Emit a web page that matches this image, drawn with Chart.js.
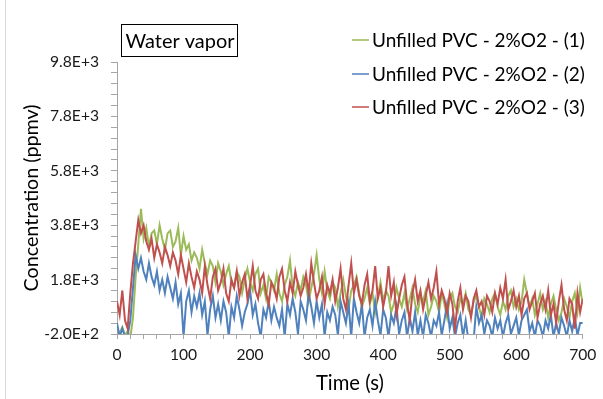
<!DOCTYPE html>
<html>
<head>
<meta charset="utf-8">
<script src="https://cdn.jsdelivr.net/npm/chart.js@4/dist/chart.umd.min.js"></script>
<style>
  html, body { margin: 0; padding: 0; background: #fff; }
  canvas { display: block; }
</style>
</head>
<body>
<canvas id="c" width="603" height="399"></canvas>
<script>
const TITLE = 'Water vapor';
const SERIES_NAMES = ['Unfilled PVC - 2%O2 - (1)', 'Unfilled PVC - 2%O2 - (2)', 'Unfilled PVC - 2%O2 - (3)'];
const X_TITLE = 'Time (s)';
const Y_TITLE = 'Concentration (ppmv)';
const Y_MAJOR = [-200, 1800, 3800, 5800, 7800, 9800];
const Y_TICK_LABELS = ['-2.0E+2', '1.8E+3', '3.8E+3', '5.8E+3', '7.8E+3', '9.8E+3'];
const X_MAJOR = [0, 100, 200, 300, 400, 500, 600, 700];
const X_TICK_LABELS = ['0', '100', '200', '300', '400', '500', '600', '700'];

const TIME = [
  0,4,8,12,16,20,24,28,32,36,
  40,44,48,52,56,60,64,68,72,76,
  80,84,88,92,96,100,104,108,112,116,
  120,124,128,132,136,140,144,148,152,156,
  160,164,168,172,176,180,184,188,192,196,
  200,204,208,212,216,220,224,228,232,236,
  240,244,248,252,256,260,264,268,272,276,
  280,284,288,292,296,300,304,308,312,316,
  320,324,328,332,336,340,344,348,352,356,
  360,364,368,372,376,380,384,388,392,396,
  400,404,408,412,416,420,424,428,432,436,
  440,444,448,452,456,460,464,468,472,476,
  480,484,488,492,496,500,504,508,512,516,
  520,524,528,532,536,540,544,548,552,556,
  560,564,568,572,576,580,584,588,592,596,
  600,604,608,612,616,620,624,628,632,636,
  640,644,648,652,656,660,664,668,672,676,
  680,684,688,692,696,700
];

const S1 = [
  -300,-150,50,-250,-100,-350,400,1900,3100,4400,
  3300,3700,3000,3500,3600,3100,3800,3300,2900,3500,
  3600,3000,3200,3700,2700,3400,2900,3100,2500,2800,
  2600,2200,2900,2400,2000,2500,2300,1700,2400,2100,
  1600,2000,2300,1700,1500,2100,1900,1300,1800,2200,
  1700,1400,2000,2200,1300,1600,1100,1900,1700,1400,
  2000,1300,1000,1600,1900,2500,1500,1200,1700,1400,
  1900,1600,1000,1500,2000,2700,1800,1300,2100,1400,
  1100,1700,1500,800,1300,1800,1200,700,1400,1600,
  1900,1300,800,1100,1500,900,1300,600,1200,1700,
  1000,1400,1200,600,900,1500,1100,800,1300,700,
  1100,1500,900,600,1200,1000,1400,500,800,1200,
  1000,600,1300,900,400,1100,1300,800,600,1100,
  900,1300,700,500,1000,1200,800,400,1100,900,
  600,1100,1300,800,500,1000,700,1200,1400,800,
  1100,700,1000,1800,1300,800,1100,500,900,1300,
  700,1000,400,900,1200,700,300,600,1100,800,
  400,1000,1300,600,1500,900
];

const S2 = [
  200,-300,0,-300,-250,300,1500,2700,2200,2600,
  2100,1800,2400,1900,1600,2100,1400,1800,1300,1900,
  1500,1100,1700,900,1300,-300,1000,1400,600,1200,
  800,1300,500,1000,-250,700,1200,400,900,300,
  1000,600,-300,800,400,1200,700,100,600,900,
  1400,500,900,200,-300,700,400,1000,300,800,
  400,100,700,-300,900,500,1100,600,-200,1000,
  700,300,1300,800,200,1000,400,900,-300,600,
  300,800,500,-250,1000,600,200,900,-300,1100,
  600,200,900,-300,400,700,100,1000,300,-250,
  700,400,-300,500,200,800,-200,300,600,-300,
  400,-100,600,-250,300,-300,500,200,-300,300,
  100,600,-250,300,900,0,400,-300,200,500,
  -300,300,-400,-300,-400,800,200,500,-200,300,
  100,-300,400,0,300,-300,200,500,-200,100,
  400,-250,300,500,700,-100,200,-300,300,100,
  -300,300,0,500,-300,200,-200,400,100,-300,
  300,-100,400,-250,200,200
];

const S3 = [
  1000,500,1400,300,0,1300,2400,3200,4000,3500,
  3800,3200,2900,3300,2600,3100,2800,2400,3000,2700,
  2300,2800,2500,2000,2700,2200,1700,2400,1900,1500,
  2100,1800,1300,2300,1600,1100,1900,2200,1400,1700,
  2200,1300,1000,1800,1500,2100,1200,1700,2000,1100,
  1600,2300,1400,1100,1800,2000,1300,900,1700,1500,
  1100,1900,2200,1400,1000,1700,1300,2100,1600,1200,
  1500,2000,1300,2400,1700,1100,1400,1900,900,1600,
  1300,1800,1000,1500,2200,1100,700,1600,2400,1300,
  1800,1200,900,1600,2000,1000,1400,2300,1100,1500,
  800,1300,2300,1200,1700,500,1100,1600,1900,900,
  300,1300,1800,1000,1400,700,1200,1700,1100,1500,
  2100,900,1400,1100,600,1300,900,0,1000,1500,
  700,1200,1000,400,1100,1400,800,1000,500,1200,
  1000,600,1300,900,1500,1100,1800,700,1000,1400,
  800,1200,500,1100,1300,700,1000,1300,400,900,
  1200,700,1400,500,900,200,1000,1600,700,300,
  1100,900,0,1300,600,1100
];

const COLORS = ['#9BBB59', '#4F81BD', '#C0504D'];
const FONT = 'Lato, "Open Sans", sans-serif';

function fitSize(text, targetW) {
  const c = document.createElement('canvas').getContext('2d');
  c.font = '100px ' + FONT;
  return 100 * targetW / c.measureText(text).width;
}
const tickSize = fitSize('9.8E+3', 49);
const legendSize = fitSize(SERIES_NAMES[0], 213);
const titleSize = fitSize(TITLE, 109);
const yTitleSize = fitSize(Y_TITLE, 187);
const xTitleSize = fitSize(X_TITLE, 68);

function pts(vals) { return TIME.map((t, i) => ({ x: t, y: vals[i] })); }

const overlay = {
  id: 'overlay',
  afterDraw(chart) {
    const ctx = chart.ctx;
    ctx.save();
    ctx.strokeStyle = '#d9d9d9';
    ctx.lineWidth = 1;
    ctx.beginPath(); ctx.moveTo(5.5, 0); ctx.lineTo(5.5, 399); ctx.stroke();
    ctx.strokeStyle = '#000';
    ctx.strokeRect(121.5, 24.5, 116, 32);
    ctx.fillStyle = '#000';
    ctx.textBaseline = 'middle';
    ctx.textAlign = 'left';
    ctx.font = titleSize.toFixed(2) + 'px ' + FONT;
    ctx.fillText(TITLE, 125.5, 41.5);
    const rows = [40, 74, 107];
    ctx.font = legendSize.toFixed(2) + 'px ' + FONT;
    SERIES_NAMES.forEach((name, i) => {
      ctx.strokeStyle = COLORS[i];
      ctx.lineWidth = 1.5;
      ctx.beginPath(); ctx.moveTo(352, rows[i]); ctx.lineTo(369, rows[i]); ctx.stroke();
      ctx.fillStyle = '#000';
      ctx.fillText(name, 372, rows[i] + 1);
    });
    ctx.restore();
  }
};

const datasets = [S1, S2, S3].map((vals, i) => ({
  label: SERIES_NAMES[i],
  data: pts(vals),
  borderColor: COLORS[i],
  backgroundColor: COLORS[i],
  borderWidth: 2,
  pointRadius: 0,
  tension: 0,
  fill: false,
  order: 3 - i
}));

const axisColor = '#a6a6a6';
const yLh = yTitleSize * 1.2;
const xLh = xTitleSize * 1.2;
const tickLh = tickSize * 1.2;

new Chart(document.getElementById('c'), {
  type: 'line',
  data: { datasets },
  options: {
    responsive: false,
    animation: false,
    devicePixelRatio: 1,
    layout: { padding: { left: 0, top: 62, right: 16, bottom: 0 } },
    plugins: { legend: { display: false }, tooltip: { enabled: false }, title: { display: false } },
    scales: {
      x: {
        type: 'linear',
        min: 0, max: 700,
        afterFit(s) { s.height = 65; },
        afterBuildTicks(s) {
          const t = [];
          for (let v = 0; v <= 700; v += 20) t.push({ value: v });
          s.ticks = t;
        },
        ticks: {
          autoSkip: false, maxRotation: 0,
          padding: 355 - 334 - 5 - tickLh / 2,
          color: '#1a1a1a',
          font: { family: FONT, size: tickSize },
          callback(v) { const k = X_MAJOR.indexOf(v); return k >= 0 ? X_TICK_LABELS[k] : ''; }
        },
        grid: { display: true, drawOnChartArea: false, drawTicks: true, tickLength: 5, tickColor: axisColor },
        border: { display: true, color: axisColor, width: 1 },
        title: {
          display: true, text: X_TITLE, color: '#000',
          font: { family: FONT, size: xTitleSize },
          padding: { top: 0, bottom: 399 - 383 - xLh / 2 }
        }
      },
      y: {
        type: 'linear',
        min: -200, max: 9800,
        afterFit(s) { s.width = 117; },
        afterBuildTicks(s) {
          const t = [];
          for (let v = -200; v <= 9800; v += 400) t.push({ value: v });
          s.ticks = t;
        },
        ticks: {
          autoSkip: false,
          padding: 12,
          color: '#1a1a1a',
          font: { family: FONT, size: tickSize },
          callback(v) { const k = Y_MAJOR.indexOf(v); return k >= 0 ? Y_TICK_LABELS[k] : ''; }
        },
        grid: { display: true, drawOnChartArea: false, drawTicks: true, tickLength: 6, tickColor: axisColor },
        border: { display: true, color: axisColor, width: 1 },
        title: {
          display: true, text: Y_TITLE, color: '#000',
          font: { family: FONT, size: yTitleSize },
          padding: { top: 32 - yLh / 2, bottom: 0 }
        }
      }
    }
  },
  plugins: [overlay]
});
</script>
</body>
</html>
